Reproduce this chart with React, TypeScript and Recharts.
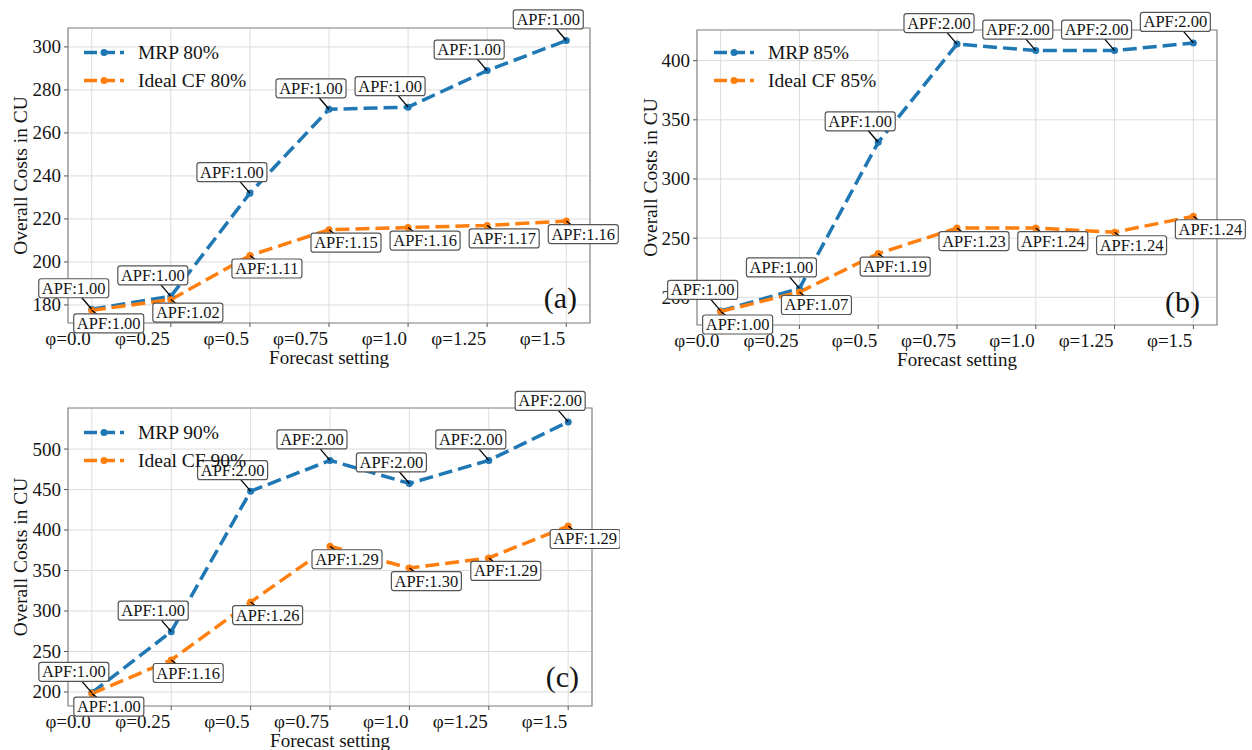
import React from 'react';
import {
  LineChart,
  Line,
  XAxis,
  YAxis,
  CartesianGrid,
  ReferenceArea,
  LabelList,
  Legend,
} from 'recharts';

// ---------------- data ----------------
const categories = ['φ=0.0', 'φ=0.25', 'φ=0.5', 'φ=0.75', 'φ=1.0', 'φ=1.25', 'φ=1.5'];
const xIndex = [0, 1, 2, 3, 4, 5, 6];

const mrp80 = [178, 184, 232, 271, 272, 289, 303];
const cf80 = [177.5, 182.5, 203, 215, 216, 217, 219];
const mrp80Apf = ['1.00', '1.00', '1.00', '1.00', '1.00', '1.00', '1.00'];
const cf80Apf = ['1.00', '1.02', '1.11', '1.15', '1.16', '1.17', '1.16'];

const mrp85 = [188.5, 207.5, 331, 414, 408.5, 408.5, 415];
const cf85 = [188, 204.5, 237, 258.5, 258.5, 255, 268.5];
const mrp85Apf = ['1.00', '1.00', '1.00', '2.00', '2.00', '2.00', '2.00'];
const cf85Apf = ['1.00', '1.07', '1.19', '1.23', '1.24', '1.24', '1.24'];

const mrp90 = [199, 274.5, 448, 486, 457.5, 486, 533.5];
const cf90 = [198, 239.5, 311, 380, 353, 365.5, 405];
const mrp90Apf = ['1.00', '1.00', '2.00', '2.00', '2.00', '2.00', '2.00'];
const cf90Apf = ['1.00', '1.16', '1.26', '1.29', '1.30', '1.29', '1.29'];

const yTicksA = [180, 200, 220, 240, 260, 280, 300];
const yTicksB = [200, 250, 300, 350, 400];
const yTicksC = [200, 250, 300, 350, 400, 450, 500];

// ---------------- styles ----------------
const FONT = '"Liberation Serif", "Times New Roman", serif';
const FONT_STYLE = { fontFamily: FONT };
const BLUE = '#1f77b4';
const ORANGE = '#ff7f0e';
const TEXT = '#141414';
const BOX_W = 70;
const BOX_H = 19;

function buildRows(mrp: number[], cf: number[], mrpApf: string[], cfApf: string[]) {
  return categories.map((c, i) => ({
    i: xIndex[i],
    cat: c,
    mrp: mrp[i],
    cf: cf[i],
    mrpApf: 'APF:' + mrpApf[i],
    cfApf: 'APF:' + cfApf[i],
  }));
}

function makeAnnotation(dx: number, dy: number) {
  return (props: any) => {
    const x = props.x ?? props.viewBox?.x;
    const y = props.y ?? props.viewBox?.y;
    const { value } = props;
    if (x == null || y == null) return null;
    const cx = x + dx;
    const cy = y + dy;
    return (
      <g>
        <line x1={x} y1={y} x2={cx} y2={cy} stroke="#000" strokeWidth={1.3} />
        <rect
          x={cx - BOX_W / 2}
          y={cy - BOX_H / 2}
          width={BOX_W}
          height={BOX_H}
          rx={2.5}
          fill="#fff"
          stroke="#555"
          strokeWidth={1.2}
        />
        <text
          x={cx}
          y={cy + 5.5}
          textAnchor="middle"
          fontFamily={FONT}
          style={FONT_STYLE}
          fontSize={16.5}
          fill={TEXT}
        >
          {value}
        </text>
      </g>
    );
  };
}

const mrpAnnotation = makeAnnotation(-18, -21);
const cfAnnotation = makeAnnotation(17, 13);

const XTick = (props: any) => {
  const { x, y, payload } = props;
  return (
    <text x={x - 1} y={y} dy="0.8em" textAnchor="end" fontFamily={FONT} style={FONT_STYLE} fontSize={19} fill={TEXT}>
      {categories[payload.value]}
    </text>
  );
};

const YTick = (props: any) => {
  const { x, y, payload } = props;
  return (
    <text x={x} y={y} dy="0.34em" textAnchor="end" fontFamily={FONT} style={FONT_STYLE} fontSize={19} fill={TEXT}>
      {payload.value}
    </text>
  );
};

const makeDot = (color: string) => (props: any) => {
  const { cx, cy, index } = props;
  if (cx == null || cy == null) return <g key={`d-${index}`} />;
  return <circle key={`d-${index}`} cx={cx} cy={cy} r={3.5} fill={color} stroke="none" />;
};
const blueDot = makeDot(BLUE);
const orangeDot = makeDot(ORANGE);

type Plot = { left: number; top: number; right: number; bottom: number };

type PanelProps = {
  left: number;
  top: number;
  width: number;
  height: number;
  plot: Plot;
  yDomain: [number, number];
  yTicks: number[];
  rows: any[];
  mrpName: string;
  cfName: string;
  letter: string;
  letterRight: number;
  letterUp: number;
};

function Panel({
  left,
  top,
  width,
  height,
  plot,
  yDomain,
  yTicks,
  rows,
  mrpName,
  cfName,
  letter,
  letterRight,
  letterUp,
}: PanelProps) {
  const xAxisHeight = 45;
  const margin = {
    top: plot.top,
    right: width - plot.right,
    left: 0,
    bottom: height - plot.bottom - xAxisHeight,
  };

  const xLabel = (props: any) => {
    const vb = props.viewBox || {};
    return (
      <text
        x={vb.x + vb.width / 2}
        y={vb.y + 41}
        textAnchor="middle"
        fontFamily={FONT}
        style={FONT_STYLE}
        fontSize={19}
        fill={TEXT}
      >
        Forecast setting
      </text>
    );
  };

  const yLabel = (props: any) => {
    const vb = props.viewBox || {};
    const cx = 20;
    const cy = vb.y + vb.height / 2;
    return (
      <text
        transform={`translate(${cx},${cy}) rotate(-90)`}
        textAnchor="middle"
        dy="0.35em"
        fontFamily={FONT}
        style={FONT_STYLE}
        fontSize={19.5}
        fill={TEXT}
      >
        Overall Costs in CU
      </text>
    );
  };

  const legendContent = () => (
    <svg width={260} height={62} style={{ display: 'block', overflow: 'visible' }}>
      {[
        { name: mrpName, color: BLUE },
        { name: cfName, color: ORANGE },
      ].map((it, k) => {
        const cy = 16.5 + 28 * k;
        return (
          <g key={k}>
            <line x1={4} x2={44} y1={cy} y2={cy} stroke={it.color} strokeWidth={3.5} strokeDasharray="13 5" />
            <circle cx={24} cy={cy} r={3.5} fill={it.color} />
            <text x={58} y={cy + 6.5} fontFamily={FONT} style={FONT_STYLE} fontSize={19.5} fill={TEXT}>
              {it.name}
            </text>
          </g>
        );
      })}
    </svg>
  );

  return (
    <div style={{ position: 'absolute', left, top, width, height }}>
      <LineChart width={width} height={height} data={rows} margin={margin}>
        <CartesianGrid stroke="#dcdcdc" strokeWidth={1} />
        <XAxis
          type="number"
          dataKey="i"
          domain={[-0.3, 6.3]}
          ticks={xIndex}
          interval={0}
          axisLine={false}
          tickLine={{ stroke: '#555' }}
          tickSize={4}
          tickMargin={3}
          height={xAxisHeight}
          tick={XTick}
          label={xLabel}
        />
        <YAxis
          type="number"
          domain={yDomain}
          ticks={yTicks}
          interval={0}
          width={plot.left}
          axisLine={false}
          tickLine={{ stroke: '#555' }}
          tickSize={4}
          tickMargin={3}
          tick={YTick}
          label={yLabel}
        />
        <ReferenceArea
          x1={-0.3}
          x2={6.3}
          y1={yDomain[0]}
          y2={yDomain[1]}
          fill="none"
          fillOpacity={0}
          stroke="#8a8a8a"
          strokeWidth={1.2}
          ifOverflow="visible"
        />
        <Line
          type="linear"
          dataKey="mrp"
          name={mrpName}
          stroke={BLUE}
          strokeWidth={3.5}
          strokeDasharray="14 6"
          dot={blueDot}
          activeDot={false}
          isAnimationActive={false}
        >
          <LabelList dataKey="mrpApf" content={mrpAnnotation} />
        </Line>
        <Line
          type="linear"
          dataKey="cf"
          name={cfName}
          stroke={ORANGE}
          strokeWidth={3.5}
          strokeDasharray="14 6"
          dot={orangeDot}
          activeDot={false}
          isAnimationActive={false}
        >
          <LabelList dataKey="cfApf" content={cfAnnotation} />
        </Line>
        <Legend
          layout="vertical"
          align="center"
          verticalAlign="middle"
          wrapperStyle={{ left: 80, top: 36, width: 260, height: 62, margin: 0, padding: 0 }}
          content={legendContent}
        />
      </LineChart>
      <div
        style={{
          position: 'absolute',
          left: plot.right - letterRight - 60,
          top: plot.bottom - letterUp,
          width: 60,
          textAlign: 'right',
          fontFamily: FONT,
          fontSize: 30,
          color: TEXT,
          lineHeight: '36px',
        }}
      >
        {letter}
      </div>
    </div>
  );
}

const rowsA = buildRows(mrp80, cf80, mrp80Apf, cf80Apf);
const rowsB = buildRows(mrp85, cf85, mrp85Apf, cf85Apf);
const rowsC = buildRows(mrp90, cf90, mrp90Apf, cf90Apf);

export default function App() {
  return (
    <div style={{ position: 'absolute', left: 0, top: 0, width: 1252, height: 750, background: '#fff', overflow: 'hidden' }}>
      <Panel
        left={0}
        top={0}
        width={620}
        height={370}
        plot={{ left: 68, top: 28, right: 590, bottom: 323 }}
        yDomain={[171.6, 308.8]}
        yTicks={yTicksA}
        rows={rowsA}
        mrpName="MRP 80%"
        cfName="Ideal CF 80%"
        letter="(a)"
        letterRight={13}
        letterUp={43}
      />
      <Panel
        left={630}
        top={0}
        width={622}
        height={370}
        plot={{ left: 67, top: 30, right: 587, bottom: 325 }}
        yDomain={[176.6, 425.9]}
        yTicks={yTicksB}
        rows={rowsB}
        mrpName="MRP 85%"
        cfName="Ideal CF 85%"
        letter="(b)"
        letterRight={17}
        letterUp={41}
      />
      <Panel
        left={0}
        top={380}
        width={620}
        height={370}
        plot={{ left: 68, top: 28, right: 592, bottom: 326 }}
        yDomain={[182.7, 550.7]}
        yTicks={yTicksC}
        rows={rowsC}
        mrpName="MRP 90%"
        cfName="Ideal CF 90%"
        letter="(c)"
        letterRight={13}
        letterUp={47}
      />
    </div>
  );
}
